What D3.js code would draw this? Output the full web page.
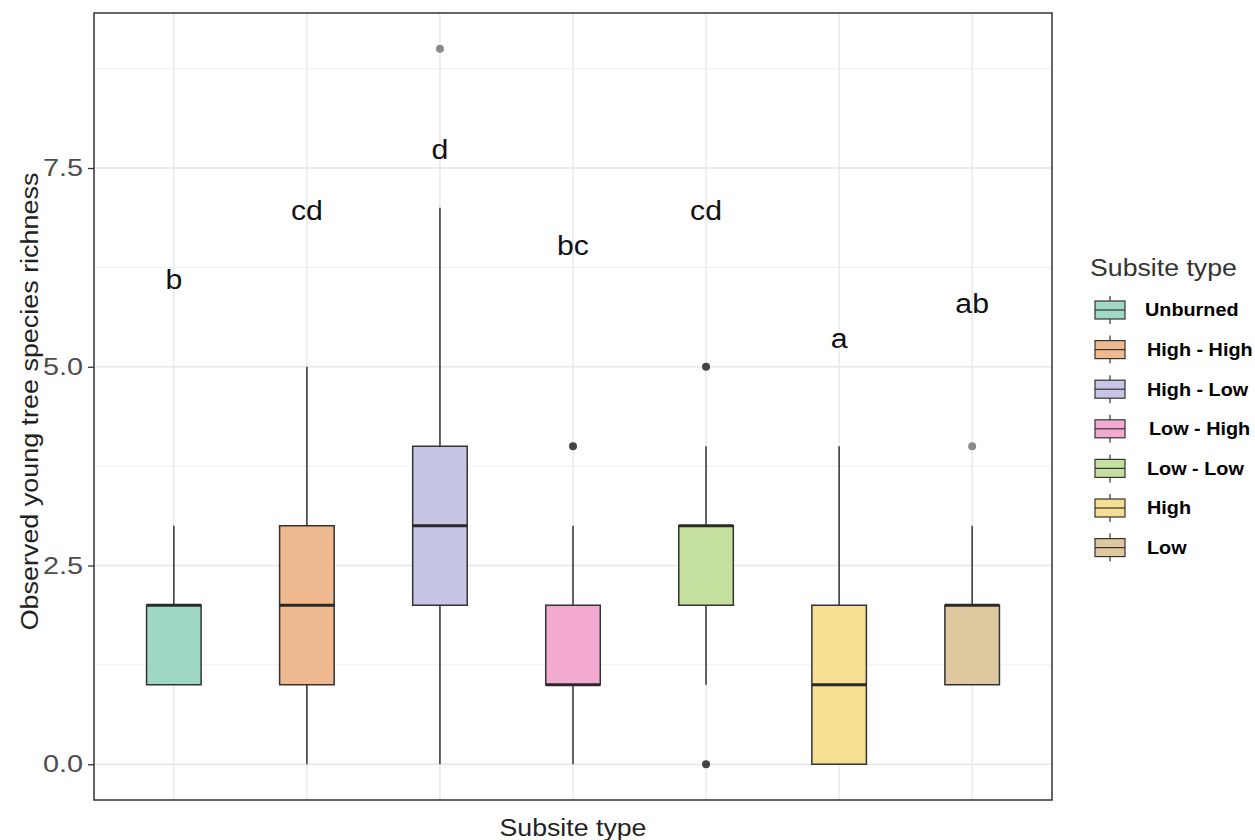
<!DOCTYPE html>
<html>
<head>
<meta charset="utf-8">
<script src="https://cdn.jsdelivr.net/npm/d3@7"></script>
<style>
  body { margin: 0; background: #fff; }
  text { font-family: "Liberation Sans", Arial, sans-serif; }
</style>
</head>
<body>
<div id="chart"></div>
<script>
var width = 1255,
    height = 840

// panel position
var margin = {top: 13, right: 203, bottom: 40, left: 94}

// data
var categories = ["Unburned", "High - High", "High - Low", "Low - High", "Low - Low", "High", "Low"]
var colors = ["#9fd9c6", "#f0ba90", "#c6c5e3", "#f3aad0", "#c4df9e", "#f6de93", "#dec8a0"]
var whiskerLow  = [1, 0, 0, 0, 1, 0, 1]
var q1          = [1, 1, 2, 1, 2, 0, 1]
var medians     = [2, 2, 3, 1, 3, 1, 2]
var q3          = [2, 3, 4, 2, 3, 2, 2]
var whiskerHigh = [3, 5, 7, 3, 4, 4, 3]
var outlierCat  = ["High - Low", "Low - High", "Low - Low", "Low - Low", "Low"]
var outlierVal  = [9, 4, 5, 0, 4]
var outlierN    = [1, 3, 2, 2, 1]
var letters     = ["b", "cd", "d", "bc", "cd", "a", "ab"]
var letterY     = [6.1, 6.97, 7.73, 6.53, 6.97, 5.35, 5.8]
var yTicks      = [0, 2.5, 5, 7.5]
var yMinor      = [1.25, 3.75, 6.25, 8.75]

// the fonts in the picture are a bit wider than Liberation Sans
function widen(sel, k) {
  sel.each(function() {
    var w = this.getComputedTextLength()
    d3.select(this)
      .attr("textLength", w * k)
      .attr("lengthAdjust", "spacingAndGlyphs")
  })
}

var svg = d3.select("#chart")
  .append("svg")
    .attr("width", width)
    .attr("height", height)

var pw = 1052 - margin.left,
    ph = 800 - margin.top

var g = svg.append("g")
  .attr("transform", "translate(" + margin.left + "," + margin.top + ")")

var x = d3.scalePoint()
  .domain(categories)
  .range([0, pw])
  .padding(0.6)

var y = d3.scaleLinear()
  .domain([-0.45, 9.45])
  .range([ph, 0])

var step = x.step()
var boxW = step * 0.41

// grid
g.selectAll(".minor")
  .data(yMinor)
  .enter()
  .append("line")
    .attr("x1", 0).attr("x2", pw)
    .attr("y1", function(d) { return y(d) })
    .attr("y2", function(d) { return y(d) })
    .attr("stroke", "#f0f0f0")
    .attr("stroke-width", 1)

g.selectAll(".major")
  .data(yTicks)
  .enter()
  .append("line")
    .attr("x1", 0).attr("x2", pw)
    .attr("y1", function(d) { return y(d) })
    .attr("y2", function(d) { return y(d) })
    .attr("stroke", "#e6e6e6")
    .attr("stroke-width", 1.3)

g.selectAll(".vgrid")
  .data(categories)
  .enter()
  .append("line")
    .attr("x1", function(d) { return x(d) })
    .attr("x2", function(d) { return x(d) })
    .attr("y1", 0).attr("y2", ph)
    .attr("stroke", "#e6e6e6")
    .attr("stroke-width", 1.3)

// boxes
var boxes = g.selectAll(".box")
  .data(categories)
  .enter()
  .append("g")

boxes.append("line")
  .attr("x1", function(d) { return x(d) })
  .attr("x2", function(d) { return x(d) })
  .attr("y1", function(d, i) { return y(whiskerLow[i]) })
  .attr("y2", function(d, i) { return y(whiskerHigh[i]) })
  .attr("stroke", "#333")
  .attr("stroke-width", 1.5)

boxes.append("rect")
  .attr("x", function(d) { return x(d) - boxW / 2 })
  .attr("width", boxW)
  .attr("y", function(d, i) { return y(q3[i]) })
  .attr("height", function(d, i) { return y(q1[i]) - y(q3[i]) })
  .attr("fill", function(d, i) { return colors[i] })
  .attr("stroke", "#333")
  .attr("stroke-width", 1.5)

boxes.append("line")
  .attr("x1", function(d) { return x(d) - boxW / 2 })
  .attr("x2", function(d) { return x(d) + boxW / 2 })
  .attr("y1", function(d, i) { return y(medians[i]) })
  .attr("y2", function(d, i) { return y(medians[i]) })
  .attr("stroke", "#2a2a2a")
  .attr("stroke-width", 3)

// outliers
g.selectAll(".outlier")
  .data(outlierVal)
  .enter()
  .append("circle")
    .attr("cx", function(d, i) { return x(outlierCat[i]) })
    .attr("cy", function(d) { return y(d) })
    .attr("r", 4)
    .attr("fill", function(d, i) { return outlierN[i] > 1 ? "#444" : "#8a8a8a" })

// significance letters
g.selectAll(".letter")
  .data(letters)
  .enter()
  .append("text")
    .attr("x", function(d, i) { return x(categories[i]) })
    .attr("y", function(d, i) { return y(letterY[i]) })
    .attr("dy", "0.35em")
    .attr("text-anchor", "middle")
    .style("font-size", "27px")
    .attr("fill", "#111")
    .text(function(d) { return d })
    .call(widen, 1.12)

// panel border
g.append("rect")
  .attr("width", pw)
  .attr("height", ph)
  .attr("fill", "none")
  .attr("stroke", "#333")
  .attr("stroke-width", 1.5)

// y axis
var yAxis = g.append("g")
  .call(d3.axisLeft(y).tickValues(yTicks).tickFormat(d3.format(".1f")).tickSize(6).tickPadding(5))
yAxis.select(".domain").remove()
yAxis.selectAll("line").attr("stroke", "#333").attr("stroke-width", 1.3)
yAxis.selectAll("text")
  .style("font-size", "24px")
  .attr("fill", "#4d4d4d")
  .call(widen, 1.2)

svg.append("text")
  .attr("transform", "translate(30," + (margin.top + ph / 2 - 5) + ") rotate(-90)")
  .attr("text-anchor", "middle")
  .attr("dy", "0.35em")
  .style("font-size", "23px")
  .attr("fill", "#222")
  .text("Observed young tree species richness")
  .call(widen, 1.17)

svg.append("text")
  .attr("x", margin.left + pw / 2)
  .attr("y", 828)
  .attr("dy", "0.35em")
  .attr("text-anchor", "middle")
  .style("font-size", "23px")
  .attr("fill", "#222")
  .text("Subsite type")
  .call(widen, 1.16)

// legend
var legend = svg.append("g")
  .attr("transform", "translate(1090,0)")

legend.append("text")
  .attr("x", 0)
  .attr("y", 268)
  .attr("dy", "0.35em")
  .style("font-size", "23px")
  .attr("fill", "#333")
  .text("Subsite type")
  .call(widen, 1.16)

var keys = legend.selectAll(".key")
  .data(categories)
  .enter()
  .append("g")
    .attr("transform", function(d, i) { return "translate(0," + (310 + i * 39.6) + ")" })

keys.append("line")
  .attr("x1", 20).attr("x2", 20)
  .attr("y1", -14).attr("y2", 14)
  .attr("stroke", "#333")
  .attr("stroke-width", 1.2)

keys.append("rect")
  .attr("x", 5).attr("y", -9)
  .attr("width", 30).attr("height", 18)
  .attr("fill", function(d, i) { return colors[i] })
  .attr("stroke", "#333")
  .attr("stroke-width", 1.2)

keys.append("line")
  .attr("x1", 5).attr("x2", 35)
  .attr("y1", 0).attr("y2", 0)
  .attr("stroke", "#333")
  .attr("stroke-width", 1.2)

keys.append("text")
  .attr("x", function(d, i) { return i == 0 ? 55 : (i == 3 ? 59 : 57) })
  .attr("y", 0)
  .attr("dy", "0.35em")
  .style("font-size", "18px")
  .style("font-weight", "bold")
  .attr("fill", "#000")
  .text(function(d) { return d })
  .call(widen, 1.1)
</script>
</body>
</html>
